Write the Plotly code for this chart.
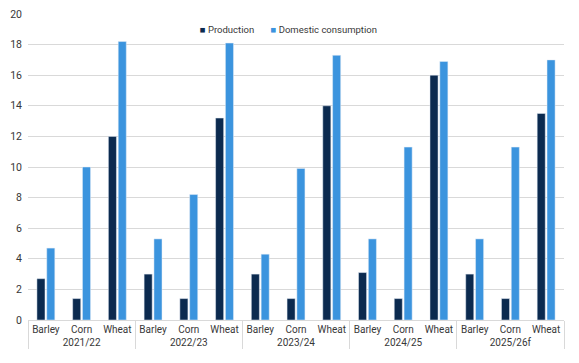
import plotly.graph_objects as go

years = ["2021/22", "2022/23", "2023/24", "2024/25", "2025/26f"]
crops = ["Barley", "Corn", "Wheat"]
production = [2.7, 1.4, 12.0, 3.0, 1.4, 13.2, 3.0, 1.4, 14.0, 3.1, 1.4, 16.0, 3.0, 1.4, 13.5]
consumption = [4.7, 10.0, 18.2, 5.3, 8.2, 18.1, 4.3, 9.9, 17.3, 5.3, 11.3, 16.9, 5.3, 11.3, 17.0]

dark = "#0b2a4f"
light = "#3b94de"

xyear = [y for y in years for _ in crops]
xcrop = [c for _ in years for c in crops]

fig = go.Figure()
fig.add_trace(go.Bar(x=[xyear, xcrop], y=production, name="Production", marker_color=dark, showlegend=False))
fig.add_trace(go.Bar(x=[xyear, xcrop], y=consumption, name="Domestic consumption", marker_color=light, showlegend=False))
for nm, col, lg in [("Production", dark, "legend"), ("Domestic consumption", light, "legend2")]:
    fig.add_trace(go.Scatter(x=[[None], [None]], y=[None], mode="markers", legend=lg,
                             name=f"<span style='color:{col}'>■</span> {nm}",
                             marker=dict(symbol="square", size=1, color="rgba(0,0,0,0)")))

leg = dict(orientation="h", xanchor="left", y=0.951, yanchor="middle",
           font=dict(size=9.5), itemwidth=30, bgcolor="rgba(0,0,0,0)")

# page body has an 8px default margin; figure sized/offset to compensate
fig.update_layout(
    width=571, height=355,
    margin=dict(l=20, r=15, t=6, b=43),
    paper_bgcolor="white", plot_bgcolor="white",
    font=dict(family="Roboto", size=10.5, color="#383838"),
    barmode="group", bargap=0.45, bargroupgap=0.18,
    legend=dict(leg, x=0.246),
    legend2=dict(leg, x=0.378),
    yaxis=dict(range=[0, 20], dtick=2, gridcolor="#d9d9d9", zeroline=False,
               tickfont=dict(size=10.5), ticks="", showline=False, automargin=False,
               ticklabelstandoff=5, ticklabeloverflow="allow"),
    xaxis=dict(showline=True, linecolor="#d9d9d9", showdividers=True, dividercolor="#d9d9d9",
               dividerwidth=1, tickfont=dict(size=10), ticks="outside", ticklen=7,
               tickcolor="rgba(0,0,0,0)", tickangle=0, automargin=False),
)
fig.write_html("out.html")
